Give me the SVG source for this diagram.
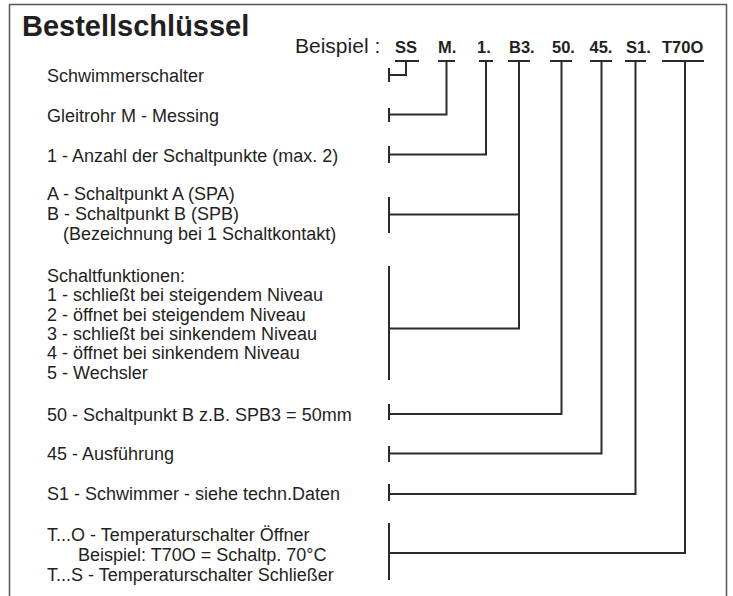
<svg xmlns="http://www.w3.org/2000/svg" width="733" height="596" viewBox="0 0 733 596">
<style>
.t{font-family:"Liberation Sans",Arial,sans-serif;font-size:18px;fill:#231f20}
.k{font-family:"Liberation Sans",Arial,sans-serif;font-size:16.5px;font-weight:bold;fill:#231f20}
.c{fill:none;stroke:#2b2b2b;stroke-width:2}
</style>
<rect width="733" height="596" fill="#fff"/>
<rect x="9.5" y="4.5" width="717" height="600" fill="none" stroke="#555" stroke-width="1.5"/>
<g id="title">
<text x="22" y="36" style="font-family:'Liberation Sans',Arial,sans-serif;font-size:29px;font-weight:bold;fill:#231f20">Bestellschlüssel</text>
<text x="295" y="52.5" style="font-family:'Liberation Sans',Arial,sans-serif;font-size:21px;fill:#231f20">Beispiel :</text>
</g>
<g id="code">
<text class="k" x="395" y="52.5">SS</text>
<text class="k" x="438" y="52.5">M.</text>
<text class="k" x="477" y="52.5">1.</text>
<text class="k" x="509" y="52.5">B3.</text>
<text class="k" x="552" y="52.5">50.</text>
<text class="k" x="589.5" y="52.5">45.</text>
<text class="k" x="626" y="52.5">S1.</text>
<text class="k" x="662" y="52.5">T70O</text>
</g>
<g id="n1"><text class="t" x="47" y="81.5">Schwimmerschalter</text></g>
<g id="n2"><text class="t" x="47" y="122">Gleitrohr M - Messing</text></g>
<g id="n3"><text class="t" x="47" y="162">1 - Anzahl der Schaltpunkte (max. 2)</text></g>
<g id="n4">
<text class="t" x="47" y="200">A - Schaltpunkt A (SPA)</text>
<text class="t" x="47" y="220">B - Schaltpunkt B (SPB)</text>
<text class="t" x="63" y="239.5">(Bezeichnung bei 1 Schaltkontakt)</text>
</g>
<g id="n5">
<text class="t" x="47" y="282">Schaltfunktionen:</text>
<text class="t" x="47" y="301">1 - schließt bei steigendem Niveau</text>
<text class="t" x="47" y="320.5">2 - öffnet bei steigendem Niveau</text>
<text class="t" x="47" y="340">3 - schließt bei sinkendem Niveau</text>
<text class="t" x="47" y="359">4 - öffnet bei sinkendem Niveau</text>
<text class="t" x="47" y="378.5">5 - Wechsler</text>
</g>
<g id="n6"><text class="t" x="47" y="420.5">50 - Schaltpunkt B z.B. SPB3 = 50mm</text></g>
<g id="n7"><text class="t" x="47" y="460">45 - Ausführung</text></g>
<g id="n8"><text class="t" x="47" y="500">S1 - Schwimmer - siehe techn.Daten</text></g>
<g id="n9">
<text class="t" x="47" y="541">T...O - Temperaturschalter Öffner</text>
<text class="t" x="78" y="561">Beispiel: T70O = Schaltp. 70°C</text>
<text class="t" x="47" y="580.5">T...S - Temperaturschalter Schließer</text>
</g>
<g id="connectors" class="c">
<path class="c" d="M395,61H419M406,61V75H389M389,68V82"/>
<path class="c" d="M438,61H455M446.5,61V114.5H389M389,108V122"/>
<path class="c" d="M479,61H493M486,61V154.5H389M389,146V163"/>
<path class="c" d="M508,61H530M519,61V328.5H389M519,214.5H389M389,197V233M389,266V380"/>
<path class="c" d="M550,61H572M561.5,61V414H389M389,404V420"/>
<path class="c" d="M590,61H612M601.5,61V453.5H389M389,446V462"/>
<path class="c" d="M625,61H646M635.5,61V494H389M389,484V501"/>
<path class="c" d="M662,61H704M685,61V553H389M389,523V580"/>
</g>
</svg>
